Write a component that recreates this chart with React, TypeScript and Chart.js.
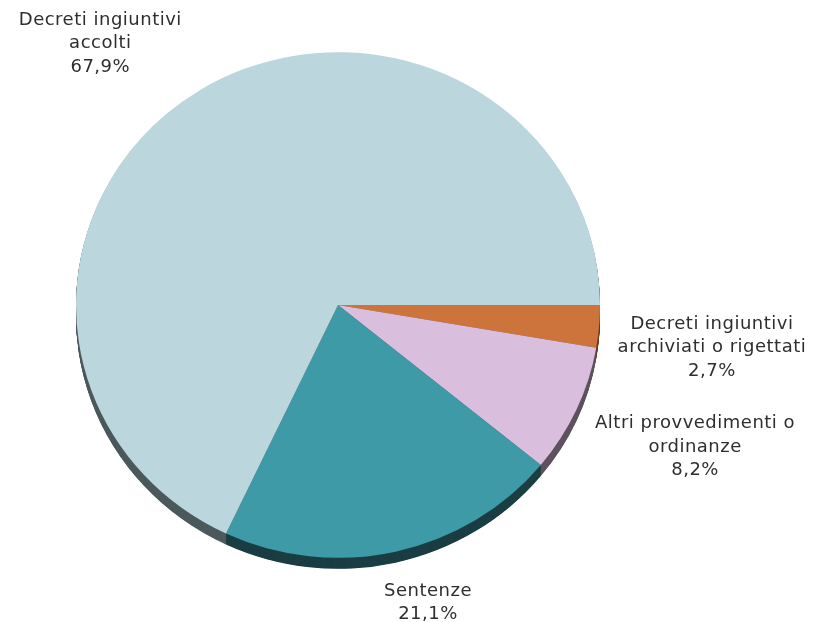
import React, { useEffect, useRef } from 'react';
import { Chart, registerables } from 'chart.js';

Chart.register(...registerables);

// Data (clockwise from 3 o'clock)
const categories = [
  'Decreti ingiuntivi archiviati o rigettati',
  'Altri provvedimenti o ordinanze',
  'Sentenze',
  'Decreti ingiuntivi accolti',
];
const labelLines = [
  ['Decreti ingiuntivi', 'archiviati o rigettati'],
  ['Altri provvedimenti o', 'ordinanze'],
  ['Sentenze'],
  ['Decreti ingiuntivi', 'accolti'],
];
const shares = [2.7, 8.2, 21.1, 67.9];
const faceColors = ['#cd743d', '#dabedd', '#3e9aa7', '#bcd6dd'];
const sideColors = ['#6b3a1d', '#5e525f', '#1b3e44', '#4d5a5d'];
// small placement nudges for the outside labels (best-fit style)
const labelNudgeX = [-7, 4, 17, -40];
const labelNudgeY = [16, 12, 3, 4];

const SY = 0.965;
const DEPTH = 11;
const FONT = '18px "DejaVu Sans", Verdana, sans-serif';
const LH = 23.5;
const GAP = 26;

const fmt = (v: number) => v.toFixed(1).replace('.', ',') + '%';

const tiltPlugin = {
  id: 'tilt',
  beforeDatasetsDraw(chart: any) {
    const ctx = chart.ctx as CanvasRenderingContext2D;
    const meta = chart.getDatasetMeta(0);
    const a0 = meta.data[0] as any;
    const cx = a0.x, cy = a0.y;
    ctx.save();
    ctx.translate(cx, cy);
    ctx.scale(1, SY);
    ctx.translate(-cx, -cy);
    for (let d = DEPTH; d >= 1; d -= 0.5) {
      meta.data.forEach((arc: any, i: number) => {
        ctx.save();
        ctx.translate(0, d / SY);
        ctx.beginPath();
        ctx.moveTo(cx, cy);
        ctx.arc(cx, cy, arc.outerRadius, arc.startAngle, arc.endAngle);
        ctx.closePath();
        ctx.fillStyle = sideColors[i];
        ctx.fill();
        ctx.restore();
      });
    }
  },
  afterDatasetsDraw(chart: any) {
    const ctx = chart.ctx as CanvasRenderingContext2D;
    ctx.restore();
    const meta = chart.getDatasetMeta(0);
    ctx.save();
    ctx.font = FONT;
    (ctx as any).letterSpacing = '0.5px';
    ctx.fillStyle = '#2e2e2e';
    ctx.textAlign = 'center';
    ctx.textBaseline = 'middle';
    meta.data.forEach((arc: any, i: number) => {
      const lines = [...labelLines[i], fmt(shares[i])];
      const mid = (arc.startAngle + arc.endAngle) / 2;
      const c = Math.cos(mid), s = Math.sin(mid);
      const rx = arc.outerRadius, ry = arc.outerRadius * SY;
      const ax = arc.x + c * (rx + GAP);
      const ay = arc.y + s * (ry + GAP);
      const w = Math.max(...lines.map((l) => ctx.measureText(l).width));
      const h = lines.length * LH;
      const bx = ax + (c * w) / 2 + labelNudgeX[i];
      const by = ay + (s * h) / 2 + labelNudgeY[i];
      lines.forEach((l, k) => {
        ctx.fillText(l, bx, by - h / 2 + LH * (k + 0.5));
      });
    });
    ctx.restore();
  },
};

export default function App() {
  const ref = useRef<HTMLCanvasElement>(null);
  useEffect(() => {
    if (!ref.current) return;
    const chart = new Chart(ref.current, {
      type: 'pie',
      data: {
        labels: categories,
        datasets: [
          {
            data: shares,
            backgroundColor: faceColors,
            borderWidth: 0,
          },
        ],
      },
      options: {
        responsive: false,
        animation: false,
        rotation: 90,
        layout: { padding: { left: 76, right: 213, top: 43, bottom: 55 } },
        plugins: { legend: { display: false }, tooltip: { enabled: false } },
      },
      plugins: [tiltPlugin],
    });
    return () => chart.destroy();
  }, []);
  return (
    <div style={{ position: 'absolute', left: 0, top: 0, width: 813, height: 622, background: '#fff' }}>
      <canvas ref={ref} width={813} height={622} />
    </div>
  );
}
